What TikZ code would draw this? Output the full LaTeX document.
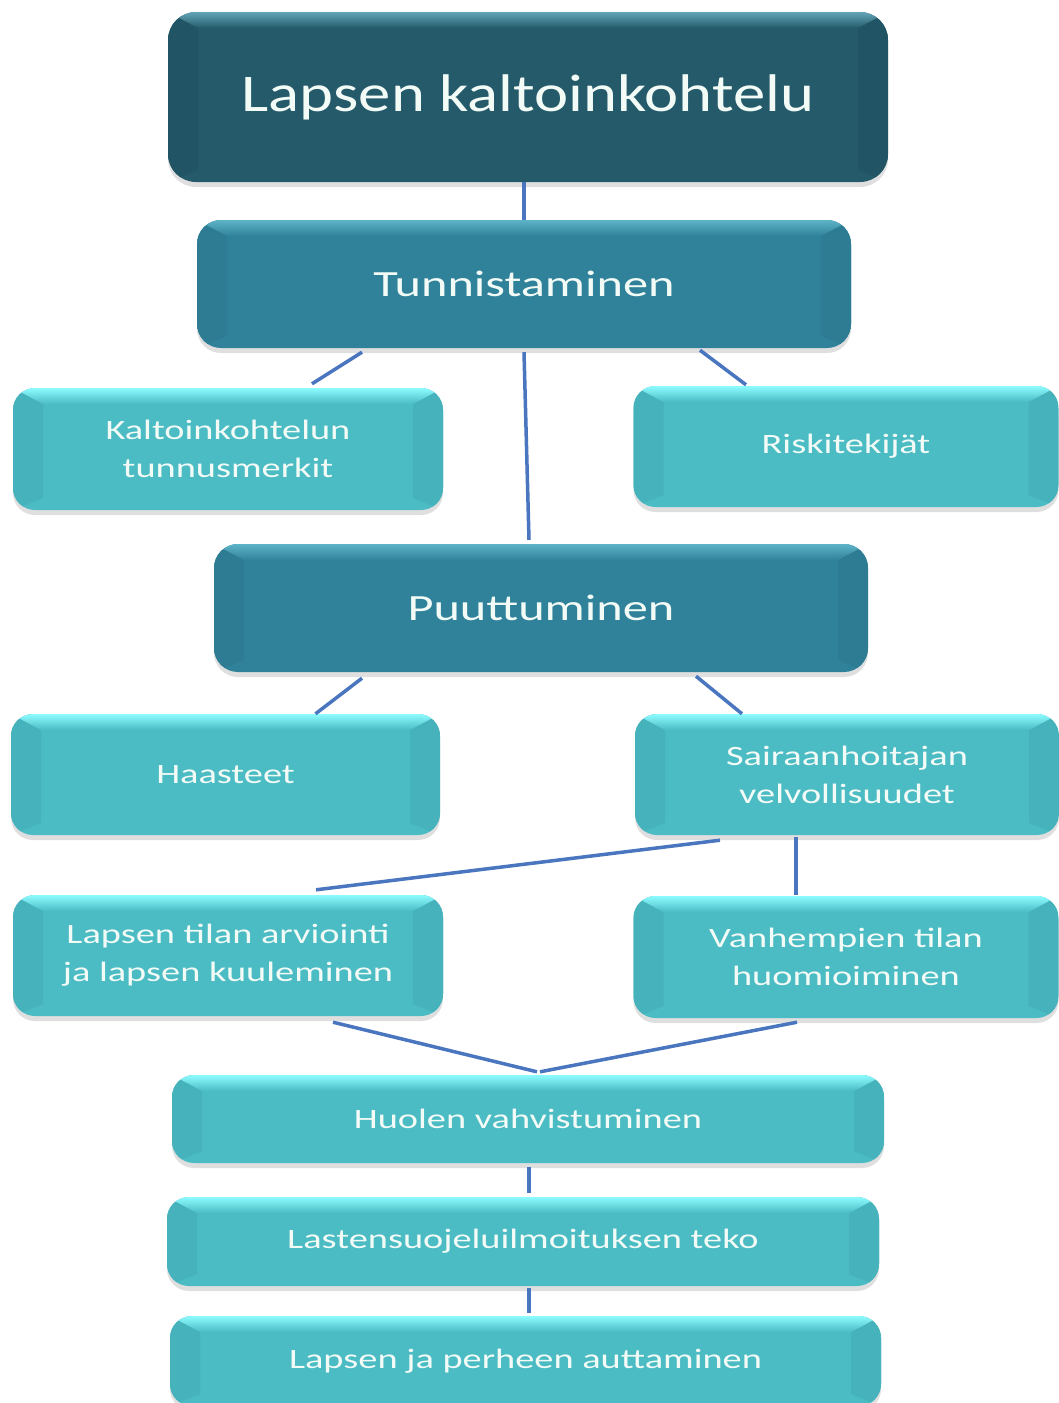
\documentclass[tikz,border=0pt]{standalone}
\usepackage{fontspec}
\setmainfont{Carlito}
\newfontfamily\fontA[FakeStretch=1.22]{Carlito}
\newfontfamily\fontB[FakeStretch=1.36]{Carlito}
\newfontfamily\fontC[FakeStretch=1.37]{Carlito}
\usetikzlibrary{shadows,calc}
\definecolor{darkbase}{HTML}{245A6A}
\definecolor{darkside}{HTML}{215566}
\definecolor{darktop}{HTML}{62A5B6}
\definecolor{midbase}{HTML}{30829A}
\definecolor{midside}{HTML}{2D7C93}
\definecolor{midtop}{HTML}{5DB3C8}
\definecolor{lightbase}{HTML}{4BBBC4}
\definecolor{lightside}{HTML}{46B2BB}
\definecolor{lighttop}{HTML}{8CFCFF}
\definecolor{linkcol}{HTML}{4A76BF}
\definecolor{txtcol}{HTML}{F3FBF7}
\tikzset{
  bevel/.style n args={3}{fill=#1, text=txtcol, align=center, inner sep=0pt,
    drop shadow={opacity=0.25, shadow xshift=0pt, shadow yshift=-5pt},
    path picture={
      \fill[#2, sharp corners] (path picture bounding box.north west) -- ([shift={(30,16)}]path picture bounding box.north west)
        -- ([shift={(30,-12)}]path picture bounding box.south west) -- (path picture bounding box.south west) -- cycle;
      \fill[#2, sharp corners] (path picture bounding box.north east) -- ([shift={(-30,16)}]path picture bounding box.north east)
        -- ([shift={(-30,-12)}]path picture bounding box.south east) -- (path picture bounding box.south east) -- cycle;
      \shade[top color=#3, bottom color=#1, sharp corners] (path picture bounding box.north west) -- (path picture bounding box.north east)
        -- ([shift={(-30,16)}]path picture bounding box.north east) -- ([shift={(30,16)}]path picture bounding box.north west) -- cycle;
    }},
  darkbox/.style={bevel={darkbase}{darkside}{darktop}, rounded corners=28pt},
  midbox/.style={bevel={midbase}{midside}{midtop}, rounded corners=24pt},
  lightbox/.style={bevel={lightbase}{lightside}{lighttop}, rounded corners=22pt,
    font=\fontC\fontsize{28}{38}\selectfont},
  link/.style={draw=linkcol, line width=3.5pt}
}
\begin{document}
\begin{tikzpicture}[x=1pt, y=-1pt]
\fill[white] (0,0) rectangle (1059,1403);
\useasboundingbox (0,0) rectangle (1059,1403);

\node[darkbox, minimum width=720, minimum height=170, font=\fontA\fontsize{53}{60}\selectfont] (top) at (528,97)
  {Lapsen kaltoinkohtelu};
\node[midbox, minimum width=654, minimum height=128, font=\fontB\fontsize{37}{44}\selectfont] (tun) at (524,284)
  {Tunnistaminen};
\node[lightbox, minimum width=430, minimum height=122] (kalt) at (228,449)
  {Kaltoinkohtelun\\tunnusmerkit};
\node[lightbox, minimum width=425, minimum height=121] (risk) at (846,446.5)
  {Riskitekijät};
\node[midbox, minimum width=654, minimum height=128, font=\fontB\fontsize{37}{44}\selectfont] (puu) at (541,608)
  {Puuttuminen};
\node[lightbox, minimum width=429, minimum height=121] (haas) at (225.5,774.5)
  {Haasteet};
\node[lightbox, minimum width=424, minimum height=121] (sair) at (847,774.5)
  {Sairaanhoitajan\\velvollisuudet};
\node[lightbox, minimum width=430, minimum height=121] (lapt) at (228,955.5)
  {Lapsen tilan arviointi\\ja lapsen kuuleminen};
\node[lightbox, minimum width=425, minimum height=122] (vanh) at (846,957)
  {Vanhempien tilan\\huomioiminen};
\node[lightbox, minimum width=712, minimum height=88] (huol) at (528,1119)
  {Huolen vahvistuminen};
\node[lightbox, minimum width=712, minimum height=89] (last) at (523,1241.5)
  {Lastensuojeluilmoituksen teko};
\node[lightbox, minimum width=711, minimum height=90] (lpa) at (525.5,1361)
  {Lapsen ja perheen\ auttaminen};

\draw[link] ([xshift=-4pt]top.south) -- (tun.north);
\draw[link] ([xshift=-162pt,yshift=-4pt]tun.south) -- ([xshift=84pt,yshift=4pt]kalt.north);
\draw[link] ([yshift=-4pt]tun.south) -- ([xshift=-12pt,yshift=4pt]puu.north);
\draw[link] ([xshift=176pt,yshift=-2pt]tun.south) -- ([xshift=-100pt,yshift=1pt]risk.north);
\draw[link] ([xshift=-179pt,yshift=-6pt]puu.south) -- ([xshift=90pt]haas.north);
\draw[link] ([xshift=155pt,yshift=-4pt]puu.south) -- ([xshift=-105pt]sair.north);
\draw[link] ([xshift=-127pt,yshift=-5pt]sair.south) -- ([xshift=88pt,yshift=5pt]lapt.north);
\draw[link] ([xshift=-51pt,yshift=-2pt]sair.south) -- ([xshift=-50pt,yshift=1pt]vanh.north);
\draw[link] ([xshift=105pt,yshift=-6pt]lapt.south) -- ([xshift=9pt,yshift=3pt]huol.north);
\draw[link] ([xshift=-49pt,yshift=-4pt]vanh.south) -- ([xshift=12pt,yshift=3pt]huol.north);
\draw[link] ([xshift=1pt,yshift=-4pt]huol.south) -- ([xshift=6pt,yshift=4pt]last.north);
\draw[link] ([xshift=6pt,yshift=-2pt]last.south) -- ([xshift=3.5pt,yshift=3pt]lpa.north);
\end{tikzpicture}
\end{document}
